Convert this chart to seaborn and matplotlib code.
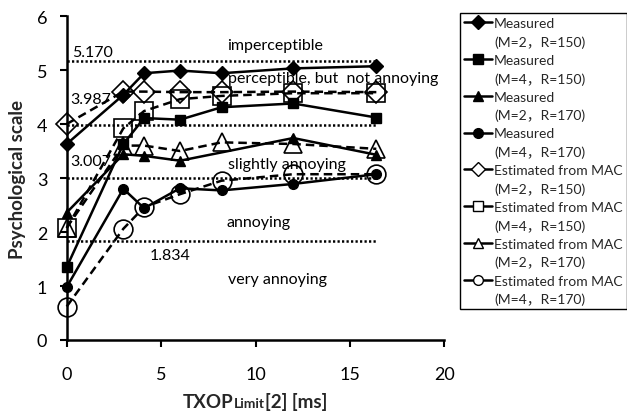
import matplotlib
matplotlib.use("Agg")
import matplotlib.pyplot as plt
import seaborn as sns
from matplotlib.lines import Line2D
from matplotlib.offsetbox import TextArea, HPacker, AnchoredOffsetbox

# ---------------- data ----------------
txop = [0, 3, 4.1, 6, 8.2, 12, 16.4]
txop_m2_r170 = [0, 3, 4.1, 6, 12, 16.4]

meas_m2_r150 = [3.63, 4.54, 4.94, 4.99, 4.94, 5.03, 5.07]
meas_m4_r150 = [1.35, 3.63, 4.11, 4.08, 4.31, 4.38, 4.12]
meas_m2_r170 = [2.36, 3.44, 3.41, 3.32, 3.74, 3.43]
meas_m4_r170 = [0.98, 2.80, 2.44, 2.81, 2.77, 2.89, 3.07]

est_m2_r150 = [4.00, 4.60, 4.60, 4.59, 4.59, 4.60, 4.59]
est_m4_r150 = [2.07, 3.92, 4.24, 4.46, 4.52, 4.57, 4.57]
est_m2_r170 = [2.08, 3.60, 3.60, 3.50, 3.66, 3.63, 3.54]
est_m4_r170 = [0.62, 2.06, 2.46, 2.70, 2.95, 3.07, 3.07]

thresholds = [5.170, 3.987, 3.007, 1.834]
threshold_labels = ["5.170", "3.987", "3.007", "1.834"]
grade_labels = ["imperceptible", "perceptible, but  not annoying",
                "slightly annoying", "annoying", "very annoying"]

series_labels = [("Measured", "(M=2，R=150)"), ("Measured", "(M=4，R=150)"),
                 ("Measured", "(M=2，R=170)"), ("Measured", "(M=4，R=170)"),
                 ("Estimated from MAC", "(M=2，R=150)"), ("Estimated from MAC", "(M=4，R=150)"),
                 ("Estimated from MAC", "(M=2，R=170)"), ("Estimated from MAC", "(M=4，R=170)")]

x_ticks = [0, 5, 10, 15, 20]
y_ticks = [0, 1, 2, 3, 4, 5, 6]

# ---------------- style ----------------
sns.set_theme(style="white")
plt.rcParams["font.family"] = ["Lato", "Noto Sans CJK JP", "DejaVu Sans"]

fig = plt.figure(figsize=(6.27, 4.14), dpi=100)
ax = fig.add_axes([66.7 / 627, 1 - 341 / 414, (444.3 - 66.7) / 627, (341 - 17) / 414])

DASH = (0, (3.4, 2.0))
series = [
    (txop, meas_m2_r150, "D", 7.0, True, False),
    (txop, meas_m4_r150, "s", 6.5, True, False),
    (txop_m2_r170, meas_m2_r170, "^", 7.5, True, False),
    (txop, meas_m4_r170, "o", 7.0, True, False),
    (txop, est_m2_r150, "D", 11.5, False, True),
    (txop, est_m4_r150, "s", 13.0, False, True),
    (txop, est_m2_r170, "^", 13.5, False, True),
    (txop, est_m4_r170, "o", 13.5, False, True),
]

# threshold dotted lines
ax.hlines(thresholds, txop[0], txop[-1], colors="black", linewidth=1.8,
          linestyles=[(0, (0.9, 0.9))], zorder=1)

for x, y, mk, ms, filled, dashed in series:
    sns.lineplot(x=x, y=y, ax=ax, color="black", linewidth=1.8,
                 linestyle=DASH if dashed else "-",
                 marker=mk, markersize=ms,
                 markerfacecolor="black" if filled else "none",
                 markeredgecolor="black",
                 markeredgewidth=1.0 if filled else 1.2,
                 estimator=None, sort=False, legend=False, clip_on=False, zorder=3)

ax.set_xlim(0, 20)
ax.set_ylim(0, 6)
ax.set_xticks(x_ticks)
ax.set_yticks(y_ticks)
ax.set_xlabel("")
ax.set_ylabel("")
for s in ["top", "right"]:
    ax.spines[s].set_visible(False)
for s in ["left", "bottom"]:
    ax.spines[s].set_color("black")
    ax.spines[s].set_linewidth(1.8)
ax.tick_params(axis="x", direction="out", length=5, width=1.5, colors="black",
               labelsize=13, pad=14, bottom=True)
ax.tick_params(axis="y", direction="out", length=5, width=1.5, colors="black",
               labelsize=13, pad=9, left=True)

# threshold labels
thr_pos = [(0.28, 5.33), (0.17, 4.46), (0.17, 3.31), (4.42, 1.57)]
for (tx, ty), lab in zip(thr_pos, threshold_labels):
    ax.text(tx, ty, lab, fontsize=11.5, ha="left", va="center", color="black")

grade_pos = [(11.03, 5.46, "center"), (8.54, 4.85, "left"), (8.54, 3.26, "left"),
             (8.44, 2.18, "left"), (8.54, 1.13, "left")]
for (gx, gy, ha), lab in zip(grade_pos, grade_labels):
    ax.text(gx, gy, lab, fontsize=11.5, ha=ha, va="center", color="black")

# axis labels
fig.text(18 / 627, 1 - 180 / 414, "Psychological scale", rotation=90,
         ha="center", va="center", fontsize=13.5, fontweight="bold")
parts = [TextArea("TXOP", textprops=dict(fontsize=13.5, fontweight="bold")),
         TextArea("Limit", textprops=dict(fontsize=10, fontweight="bold")),
         TextArea("[2] [ms]", textprops=dict(fontsize=13.5, fontweight="bold"))]
pack = HPacker(children=parts, align="baseline", pad=0, sep=0)
abox = AnchoredOffsetbox(loc="center", child=pack, frameon=False, pad=0, borderpad=0,
                         bbox_to_anchor=(255 / 627, 1 - 402 / 414),
                         bbox_transform=fig.transFigure)
fig.add_artist(abox)

# legend
handles, labels = [], []
for (x, y, mk, ms, filled, dashed), (l1, l2) in zip(series, series_labels):
    handles.append(Line2D([], [], color="black", linewidth=1.8, marker=mk,
                          markersize=7,
                          markerfacecolor="black" if filled else "white",
                          markeredgecolor="black", markeredgewidth=1.0))
    labels.append(l1)
    handles.append(Line2D([], [], linestyle="none", marker=None))
    labels.append(l2)

leg = fig.legend(handles, labels, loc="upper left",
                 bbox_to_anchor=(460 / 627, 1 - 14 / 414),
                 bbox_transform=fig.transFigure,
                 fontsize=10, frameon=True, fancybox=False, shadow=False,
                 handlelength=2.0, handletextpad=0.15, labelspacing=0.44,
                 borderpad=0.3, borderaxespad=0, framealpha=1)
leg.get_frame().set_edgecolor("black")
leg.get_frame().set_linewidth(1.0)

fig.savefig("out.png", dpi=100)
